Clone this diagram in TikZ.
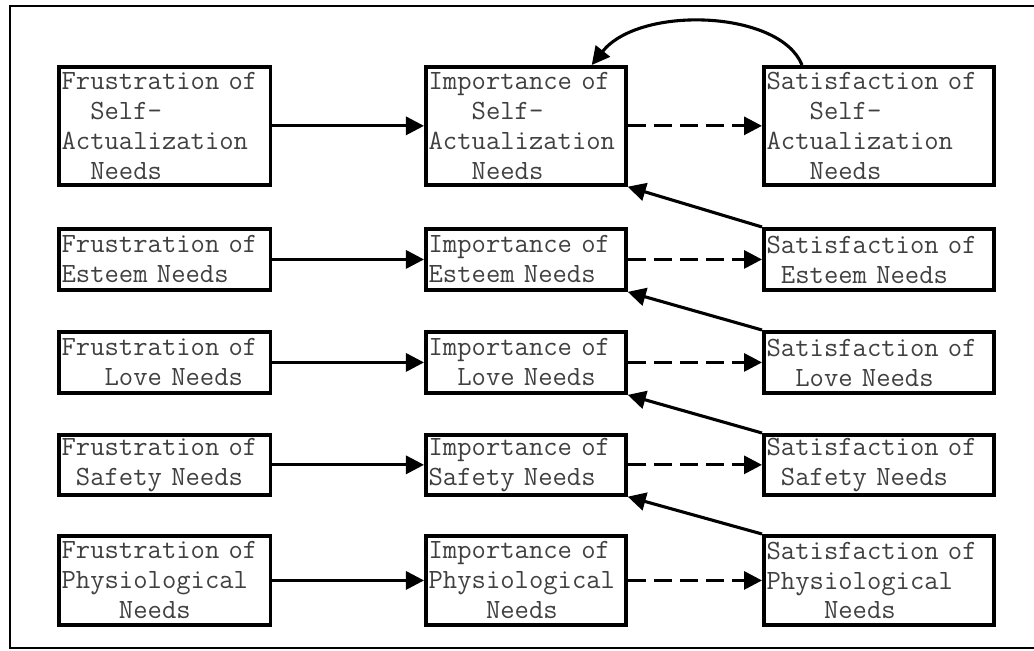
\documentclass[tikz,border=0pt]{standalone}
\usepackage{fontspec}
\usetikzlibrary{arrows.meta}
\newcommand{\ind}[1]{\hspace*{#1\fontcharwd\font`M}}

\begin{document}
\begin{tikzpicture}[x=0.025cm,y=-0.025cm,
  need/.style={draw,line width=2.6pt,rectangle,anchor=north west,inner xsep=2pt,inner ysep=0pt,
    align=left,text=black!75,font=\ttfamily\fontsize{19.8}{21.3}\selectfont},
  colF/.style={text width=5.15cm},
  colI/.style={text width=4.86cm},
  colS/.style={text width=5.61cm},
  rowA/.style={minimum height=2.95cm},
  rowB/.style={minimum height=1.53cm},
  rowC/.style={minimum height=1.53cm},
  rowD/.style={minimum height=1.5cm},
  rowE/.style={minimum height=2.23cm},
  tip/.style={-{Triangle[length=0.45cm,width=0.45cm]}},
  fwd/.style={tip,line width=2.2pt},
  dsh/.style={tip,line width=2.2pt,dash pattern=on 0.45cm off 0.2cm},
  back/.style={tip,line width=2.2pt}]
\useasboundingbox (0,0) rectangle (1034,651);
\draw[line width=2pt] (1034,6)--(10,6)--(10,648)--(1034,648);
% first column
\node[need,colF,rowA] (F1) at (57,65) {Frustration of\\\ind{2}Self-\\Actualization\\\ind{2}Needs};
\node[need,colF,rowB] (F2) at (57,227) {Frustration of\\Esteem Needs};
\node[need,colF,rowC] (F3) at (57,330) {Frustration of\\\ind{3}Love Needs};
\node[need,colF,rowD] (F4) at (57,433) {Frustration of\\\ind{1}Safety Needs};
\node[need,colF,rowE] (F5) at (57,534) {Frustration of\\Physiological\\\ind{4}Needs};
% second column
\node[need,colI,rowA] (I1) at (424,65) {Importance of\\\ind{3}Self-\\Actualization\\\ind{3}Needs};
\node[need,colI,rowB] (I2) at (424,227) {Importance of\\Esteem Needs};
\node[need,colI,rowC] (I3) at (424,330) {Importance of\\\ind{2}Love Needs};
\node[need,colI,rowD] (I4) at (424,433) {Importance of\\Safety Needs};
\node[need,colI,rowE] (I5) at (424,534) {Importance of\\Physiological\\\ind{4}Needs};
% third column
\node[need,colS,rowA] (S1) at (762,65) {Satisfaction of\\\ind{3}Self-\\Actualization\\\ind{3}Needs};
\node[need,colS,rowB] (S2) at (762,227) {Satisfaction of\\\ind{1}Esteem Needs};
\node[need,colS,rowC] (S3) at (762,330) {Satisfaction of\\\ind{2}Love Needs};
\node[need,colS,rowD] (S4) at (762,433) {Satisfaction of\\\ind{1}Safety Needs};
\node[need,colS,rowE] (S5) at (762,534) {Satisfaction of\\Physiological\\\ind{4}Needs};
% frustration -> importance
\draw[fwd] (F1)--(I1);
\draw[fwd] (F2)--(I2);
\draw[fwd] (F3)--(I3);
\draw[fwd] (F4)--(I4);
\draw[fwd] (F5)--(I5);
% importance -> satisfaction
\draw[dsh] (I1)--(S1);
\draw[dsh] (I2)--(S2);
\draw[dsh] (I3)--(S3);
\draw[dsh] (I4)--(S4);
\draw[dsh] (I5)--(S5);
% satisfaction -> next importance
\draw[back] (S2.north west)--(I1.south east);
\draw[back] (S3.north west)--(I2.south east);
\draw[back] (S4.north west)--(I3.south east);
\draw[back] (S5.north west)--(I4.south east);
\draw[back] ([xshift=1cm]S1.north west) .. controls +(-22,-55) and +(48,-60) .. ([xshift=-0.9cm]I1.north east);
\end{tikzpicture}
\end{document}
